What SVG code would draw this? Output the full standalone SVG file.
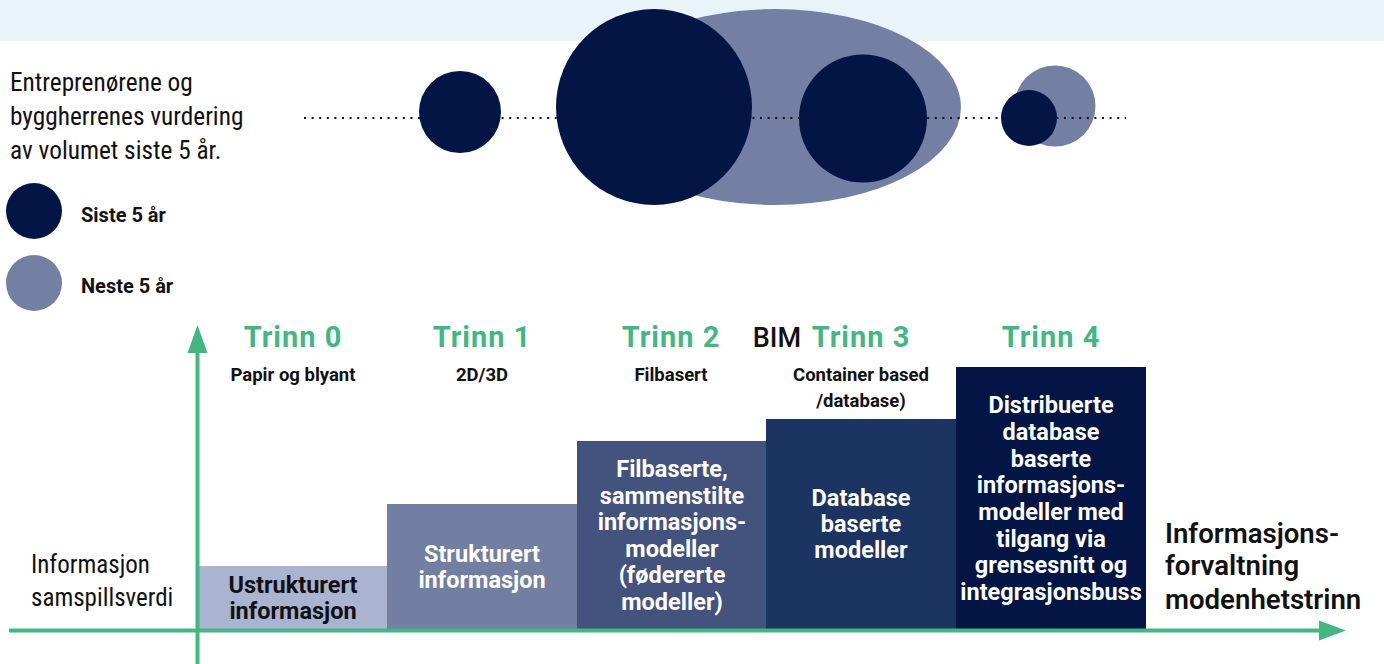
<svg xmlns="http://www.w3.org/2000/svg" width="1384" height="664" viewBox="0 0 1384 664">
<style>
.narrow{font-family:"Liberation Sans Narrow","Roboto Condensed","Liberation Sans",sans-serif;fill:#111;}
.lbl{font-family:Roboto,"Liberation Sans",sans-serif;font-weight:700;font-size:20px;fill:#111;}
.trinn{font-family:Roboto,"Liberation Sans",sans-serif;font-weight:700;font-size:29px;fill:#41B883;text-anchor:middle;letter-spacing:1px;}
.sub{font-family:Roboto,"Liberation Sans",sans-serif;font-weight:700;font-size:18.5px;fill:#111;text-anchor:middle;}
.bar{font-family:Roboto,"Liberation Sans",sans-serif;font-weight:700;font-size:23.5px;fill:#fff;text-anchor:middle;}
.right{font-family:Roboto,"Liberation Sans",sans-serif;font-weight:600;font-size:27.6px;fill:#111;}
.dark{fill:#021544;}
.light{fill:#7380A3;}
.axis{stroke:#41B883;stroke-width:4;fill:none;}
.head{fill:#41B883;}
</style>
<rect x="0" y="0" width="1384" height="41" fill="#E8F4F7"/>

<g id="bubbles-next">
<ellipse class="light" cx="775" cy="107" rx="186" ry="98"/>
<circle class="light" cx="1055" cy="106" r="40.5"/>
</g>
<g id="dotted-line">
<line x1="304" y1="118" x2="1126" y2="118" stroke="#111" stroke-width="2" stroke-dasharray="2 5.6"/>
</g>
<g id="bubbles-last">
<circle class="dark" cx="460" cy="112" r="41"/>
<circle class="dark" cx="654" cy="107" r="98"/>
<circle class="dark" cx="863" cy="118.5" r="64"/>
<circle class="dark" cx="1029" cy="118" r="28"/>
</g>

<g id="intro">
<text class="narrow" font-size="25.3" x="10" y="91">Entreprenørene og</text>
<text class="narrow" font-size="25.3" x="10" y="125">byggherrenes vurdering</text>
<text class="narrow" font-size="25.3" x="10" y="159">av volumet siste 5 år.</text>
</g>
<g id="legend-siste">
<circle class="dark" cx="34" cy="211" r="28"/>
<text class="lbl" x="81" y="222">Siste 5 år</text>
</g>
<g id="legend-neste">
<circle class="light" cx="34" cy="283" r="28"/>
<text class="lbl" x="81" y="293">Neste 5 år</text>
</g>

<g id="bar0">
<rect x="199" y="566" width="188" height="64" fill="#AAB3CF"/>
<text class="bar" x="293" y="593" style="fill:#111">Ustrukturert</text>
<text class="bar" x="293" y="619" style="fill:#111">informasjon</text>
</g>
<g id="bar1">
<rect x="387" y="504" width="190" height="126" fill="#737FA2"/>
<text class="bar" x="482" y="562">Strukturert</text>
<text class="bar" x="482" y="588">informasjon</text>
</g>
<g id="bar2">
<rect x="577" y="441" width="189" height="189" fill="#44527E"/>
<text class="bar" x="672" y="477">Filbaserte,</text>
<text class="bar" x="672" y="503.5">sammenstilte</text>
<text class="bar" x="672" y="530">informasjons-</text>
<text class="bar" x="672" y="556.5">modeller</text>
<text class="bar" x="672" y="583">(fødererte</text>
<text class="bar" x="672" y="609.5">modeller)</text>
</g>
<g id="bar3">
<rect x="766" y="419" width="190" height="211" fill="#1B3461"/>
<text class="bar" x="861" y="506">Database</text>
<text class="bar" x="861" y="532">baserte</text>
<text class="bar" x="861" y="558">modeller</text>
</g>
<g id="bar4">
<rect x="956" y="367" width="190" height="263" fill="#021544"/>
<text class="bar" x="1051" y="413">Distribuerte</text>
<text class="bar" x="1051" y="440">database</text>
<text class="bar" x="1051" y="466.5">baserte</text>
<text class="bar" x="1051" y="493">informasjons-</text>
<text class="bar" x="1051" y="519.5">modeller med</text>
<text class="bar" x="1051" y="546.5">tilgang via</text>
<text class="bar" x="1051" y="573">grensesnitt og</text>
<text class="bar" x="1051" y="599.5">integrasjonsbuss</text>
</g>

<g id="stage-headings">
<text class="trinn" x="293" y="347">Trinn 0</text>
<text class="trinn" x="482" y="347">Trinn 1</text>
<text class="trinn" x="671" y="347">Trinn 2</text>
<text x="801" y="347" font-family="Roboto,'Liberation Sans',sans-serif" font-weight="500" font-size="27" fill="#111" text-anchor="end">BIM</text>
<text class="trinn" x="861" y="347">Trinn 3</text>
<text class="trinn" x="1051" y="347">Trinn 4</text>
<text class="sub" x="293" y="381">Papir og blyant</text>
<text class="sub" x="482" y="381">2D/3D</text>
<text class="sub" x="671" y="381">Filbasert</text>
<text class="sub" x="861" y="381">Container based</text>
<text class="sub" x="861" y="407">/database)</text>
</g>

<g id="connectors">
<line class="axis" x1="197.5" y1="664" x2="197.5" y2="350"/>
<polygon class="head" points="197.5,325 187.5,353 207.5,353"/>
<line class="axis" x1="9" y1="630.5" x2="1322" y2="630.5"/>
<polygon class="head" points="1346,630.5 1319,620.5 1319,640.5"/>
</g>

<g id="axis-labels">
<text class="narrow" font-size="25" x="31" y="573">Informasjon</text>
<text class="narrow" font-size="25" x="31" y="606">samspillsverdi</text>
<text class="right" x="1165" y="542.5">Informasjons-</text>
<text class="right" x="1165" y="575">forvaltning</text>
<text class="right" x="1165" y="609">modenhetstrinn</text>
</g>
</svg>
